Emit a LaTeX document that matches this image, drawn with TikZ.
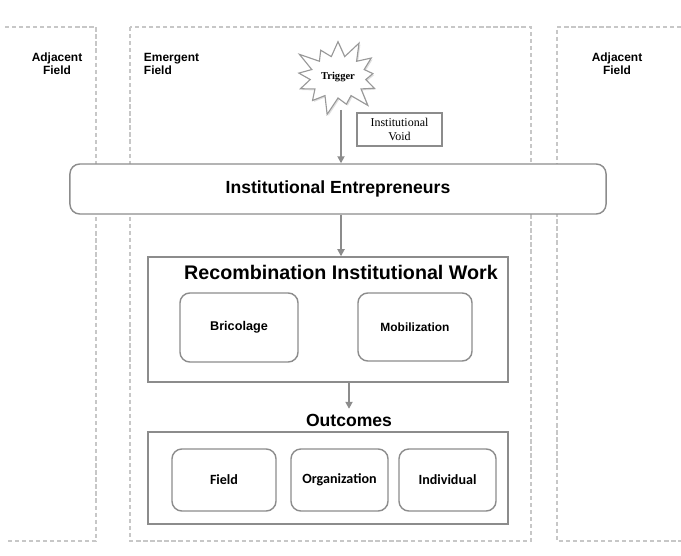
\documentclass[tikz,border=0pt]{standalone}
\usepackage{fontspec}
\setmainfont{Liberation Sans}
\newfontfamily\calibrifont{Carlito}
\newfontfamily\timesfont{Liberation Serif}
\usetikzlibrary{arrows.meta, shapes.symbols, shadows}

\tikzset{
  fieldline/.style={draw=black!22, line width=0.9pt, dash pattern=on 3pt off 2pt},
  fieldlabel/.style={font=\bfseries\fontsize{8.5}{9.5}\selectfont, align=center},
  panel/.style={draw=black!45, line width=1pt, fill=white},
  roundbox/.style={panel, rounded corners=7pt},
  flow/.style={draw=black!45, line width=1.2pt, -{Triangle[length=5pt,width=5pt]}},
  shadowed/.style={drop shadow={opacity=0.25, shadow xshift=1pt, shadow yshift=-1pt}}
}

\begin{document}
\begin{tikzpicture}[x=0.025cm, y=-0.025cm]
  \useasboundingbox (0,0) rectangle (681,556);
  % ---------- fields ----------
  \draw[fieldline] (5,27) -- (96,27) -- (96,541) -- (5,541);
  \draw[fieldline] (130,27) rectangle (531,541);
  \draw[fieldline] (681,27) -- (557,27) -- (557,541) -- (681,541);
  \node[fieldlabel] (adjl) at (57,64) {Adjacent\\Field};
  \node[fieldlabel, align=left, anchor=west] (emer) at (139,64) {Emergent\\Field};
  \node[fieldlabel] (adjr) at (617,64) {Adjacent\\Field};
  % ---------- trigger ----------
  \node[starburst, starburst points=13, starburst point height=0.5cm,
        draw=black!40, fill=white, line width=0.8pt, shadowed,
        minimum width=2.4cm, minimum height=2.05cm, inner sep=0pt,
        font=\timesfont\bfseries\fontsize{7.5}{8}\selectfont] (trig) at (338,77) {Trigger};
  \node[panel, shadowed, minimum width=2.125cm, minimum height=0.825cm, inner sep=1pt,
        align=center, font=\timesfont\fontsize{8.5}{9.5}\selectfont] (void) at (399.5,129.5)
        {Institutional\\Void};
  % ---------- entrepreneurs ----------
  \node[roundbox, minimum width=13.4cm, minimum height=1.25cm,
        font=\bfseries\fontsize{12.5}{14}\selectfont] (ent) at (338,189) {Institutional Entrepreneurs};
  \draw[flow] (341,110) coordinate (tstart) -- (tstart |- ent.north);
  % ---------- recombination work ----------
  \node[panel, minimum width=9cm, minimum height=3.125cm] (riw) at (328,319.5) {};
  \node[font=\bfseries\fontsize{14}{16}\selectfont] (riwt) at (341,272) {Recombination Institutional Work};
  \node[roundbox, minimum width=2.95cm, minimum height=1.725cm,
        font=\bfseries\fontsize{9}{10}\selectfont] (bric) at (239,327.5) {Bricolage};
  \node[roundbox, minimum width=2.85cm, minimum height=1.7cm,
        font=\bfseries\fontsize{8.5}{9.5}\selectfont] (mob) at (415,327) {Mobilization};
  \draw[flow] (tstart |- ent.south) -- (tstart |- riw.north);
  % ---------- outcomes ----------
  \node[font=\bfseries\fontsize{12.5}{14}\selectfont] (outt) at (349,420) {Outcomes};
  \node[panel, minimum width=9cm, minimum height=2.3cm] (outb) at (328,478) {};
  \node[roundbox, minimum width=2.6cm, minimum height=1.55cm,
        font=\calibrifont\bfseries\fontsize{10}{11}\selectfont] (fld) at (224,480) {Field};
  \node[roundbox, minimum width=2.425cm, minimum height=1.55cm,
        font=\calibrifont\bfseries\fontsize{10}{11}\selectfont] (org) at (339.5,480) {Organization};
  \node[roundbox, minimum width=2.425cm, minimum height=1.55cm,
        font=\calibrifont\bfseries\fontsize{10}{11}\selectfont] (ind) at (447.5,480) {Individual};
  \draw[flow] (outt |- riw.south) -- (outt.north);
\end{tikzpicture}
\end{document}
